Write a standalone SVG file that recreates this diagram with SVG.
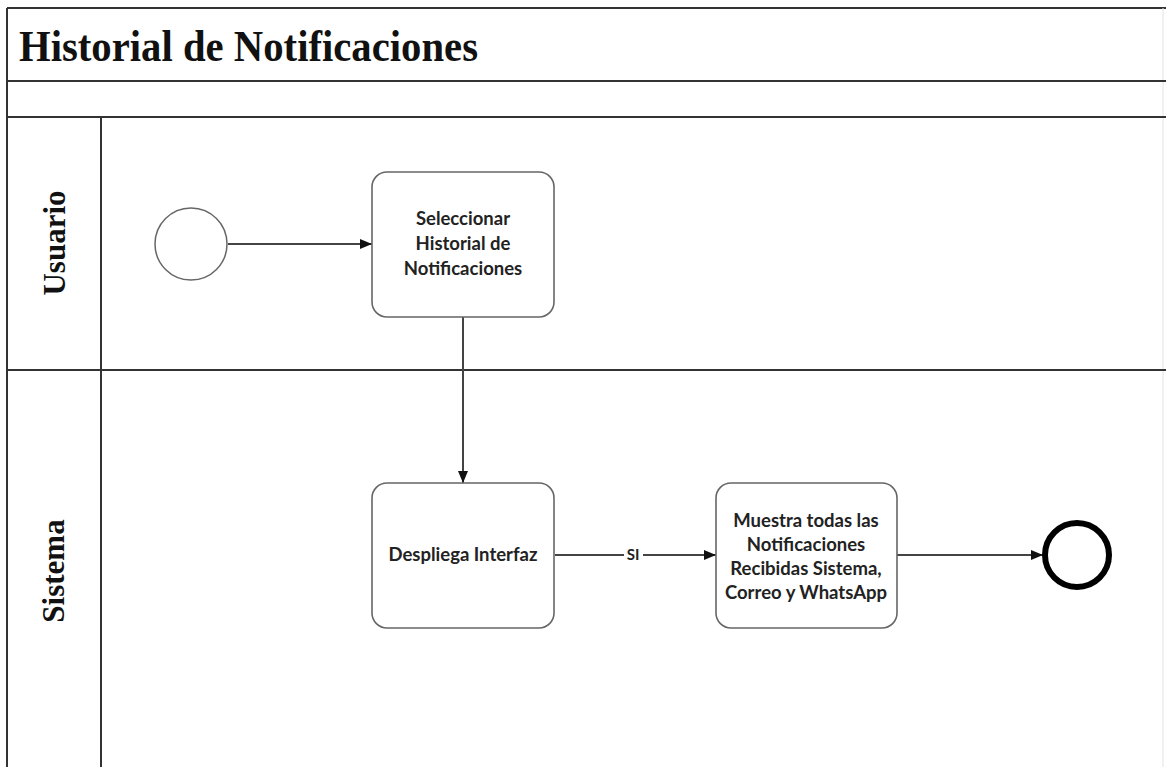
<svg xmlns="http://www.w3.org/2000/svg" width="1166" height="767" viewBox="0 0 1166 767">
  <defs>
    <marker id="arrow" viewBox="0 0 12 10" refX="12" refY="5" markerWidth="12" markerHeight="10" markerUnits="userSpaceOnUse" orient="auto">
      <path d="M0,0 L12,5 L0,10 Z" fill="#111"/>
    </marker>
    <style>
      .pool { fill: none; stroke: #333; stroke-width: 2; }
      .lane-title { font-family: "Liberation Serif", "Times New Roman", serif; font-weight: bold; fill: #111; }
      .task rect { fill: #fff; stroke: #666; stroke-width: 1.6; }
      .task text { font-family: Lato, "Open Sans", "Liberation Sans", sans-serif; font-weight: bold; font-size: 18.5px; fill: #222; text-anchor: middle; }
      .flow { fill: none; stroke: #444; stroke-width: 2; marker-end: url(#arrow); }
      .flow-label { font-family: Lato, "Liberation Sans", sans-serif; font-weight: bold; font-size: 15px; fill: #222; text-anchor: middle; }
    </style>
  </defs>

  <rect width="1166" height="767" fill="#fff"/>

  <!-- pool frame and lanes -->
  <g id="pool">
    <line class="pool" x1="7" y1="8" x2="1166" y2="8"/>
    <line class="pool" x1="7" y1="8" x2="7" y2="767"/>
    <line x1="1163" y1="8" x2="1163" y2="767" stroke="#e2e2e2" stroke-width="1"/>
    <line class="pool" x1="7" y1="81" x2="1166" y2="81"/>
    <line class="pool" x1="7" y1="117" x2="1166" y2="117"/>
    <line class="pool" x1="7" y1="370" x2="1166" y2="370"/>
    <line class="pool" x1="101" y1="117" x2="101" y2="767"/>
    <text class="lane-title" x="19" y="61" font-size="44" textLength="459" lengthAdjust="spacingAndGlyphs">Historial de Notificaciones</text>
  </g>

  <g id="lane-usuario">
    <text class="lane-title" font-size="31" text-anchor="middle" transform="translate(65,243) rotate(-90)">Usuario</text>
  </g>

  <g id="lane-sistema">
    <text class="lane-title" font-size="31" text-anchor="middle" transform="translate(64,571) rotate(-90)">Sistema</text>
  </g>

  <!-- connectors -->
  <g id="connectors">
    <line class="flow" x1="228" y1="244" x2="372" y2="244"/>
    <line class="flow" x1="463" y1="317" x2="463" y2="483"/>
    <line class="flow" x1="555" y1="555" x2="716" y2="555"/>
    <rect x="624" y="546" width="19" height="18" fill="#fff"/>
    <text class="flow-label" x="633" y="560">SI</text>
    <line class="flow" x1="897" y1="555" x2="1043" y2="555"/>
  </g>

  <!-- events -->
  <g id="start-event">
    <circle cx="191" cy="244" r="36" fill="#fff" stroke="#666" stroke-width="1.5"/>
  </g>

  <g id="end-event">
    <circle cx="1077" cy="555" r="32" fill="#fff" stroke="#000" stroke-width="6"/>
  </g>

  <!-- tasks -->
  <g id="task-seleccionar" class="task">
    <rect x="372" y="172" width="182" height="145" rx="15"/>
    <text x="463" y="225">Seleccionar</text>
    <text x="463" y="250">Historial de</text>
    <text x="463" y="275">Notificaciones</text>
  </g>

  <g id="task-despliega" class="task">
    <rect x="372" y="483" width="182" height="145" rx="15"/>
    <text x="463" y="561">Despliega Interfaz</text>
  </g>

  <g id="task-muestra" class="task">
    <rect x="716" y="483" width="181" height="145" rx="15"/>
    <text x="806" y="527">Muestra todas las</text>
    <text x="806" y="551">Notificaciones</text>
    <text x="806" y="575">Recibidas Sistema,</text>
    <text x="806" y="599">Correo y WhatsApp</text>
  </g>
</svg>
